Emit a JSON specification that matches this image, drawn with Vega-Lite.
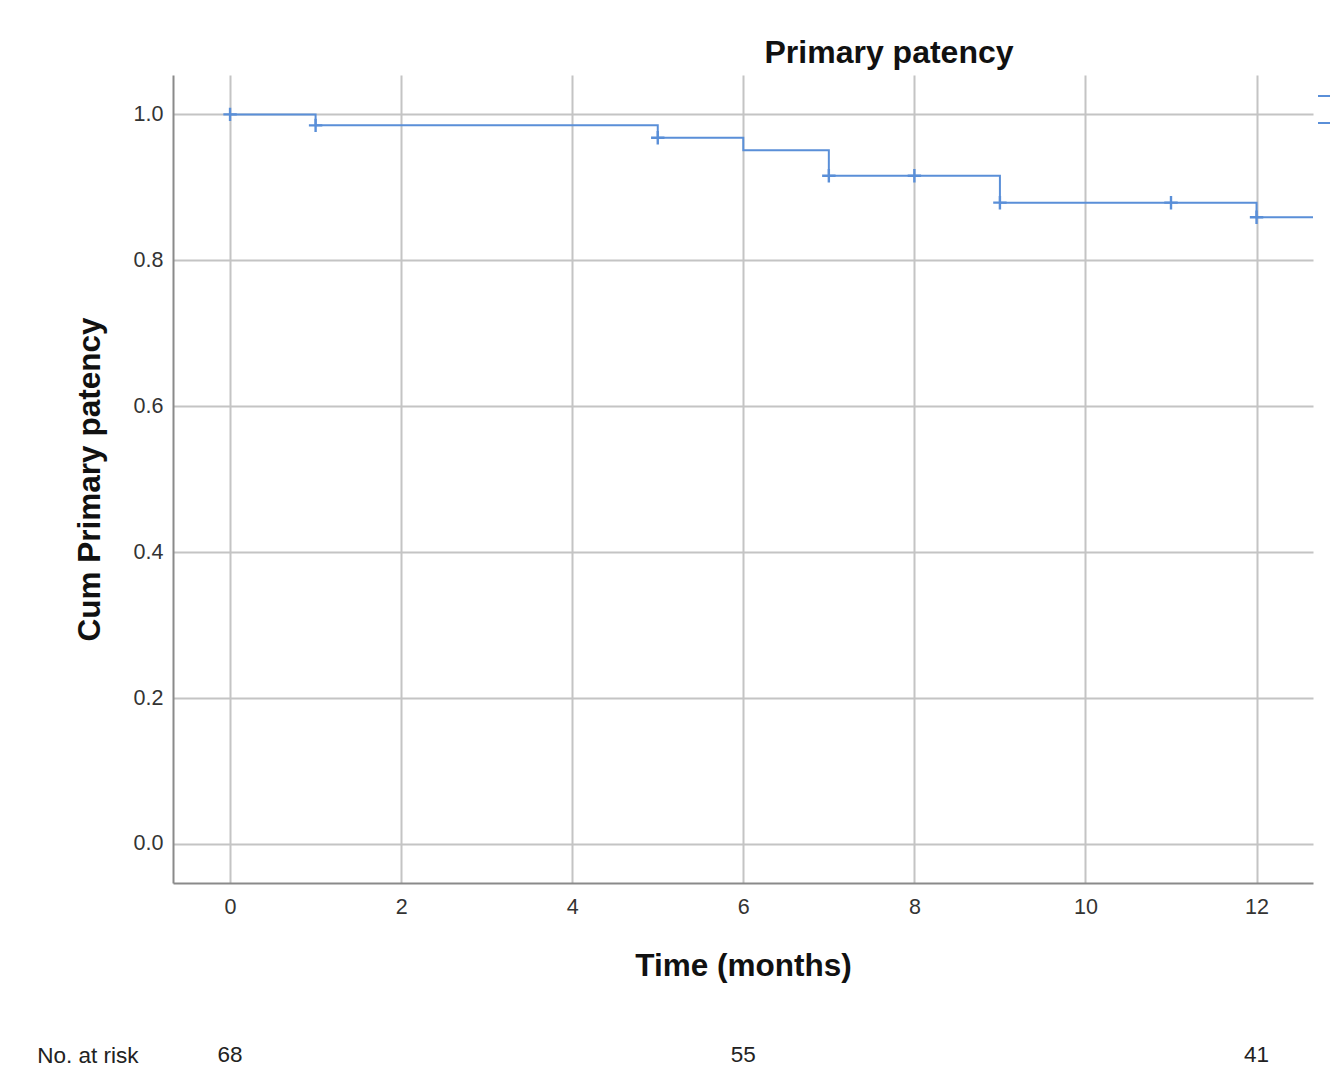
{
  "$schema": "https://vega.github.io/schema/vega-lite/v6.json",
  "autosize": {"type": "none"},
  "padding": {"left": 173, "top": 75, "right": 1157, "bottom": 1016},
  "background": "white",
  "spacing": 58,
  "config": {
    "font": "Liberation Sans",
    "view": {"stroke": null},
    "axis": {"labelFont": "Liberation Sans", "titleFont": "Liberation Sans"}
  },
  "datasets": {
    "curve": [
      {"time": 0, "surv": 1.0, "series": "Survival Function"},
      {"time": 1, "surv": 0.985, "series": "Survival Function"},
      {"time": 5, "surv": 0.968, "series": "Survival Function"},
      {"time": 6, "surv": 0.951, "series": "Survival Function"},
      {"time": 7, "surv": 0.916, "series": "Survival Function"},
      {"time": 9, "surv": 0.879, "series": "Survival Function"},
      {"time": 12, "surv": 0.859, "series": "Survival Function"},
      {"time": 13, "surv": 0.859, "series": "Survival Function"}
    ],
    "censored": [
      {"time": 0, "surv": 1.0, "series": "Censored"},
      {"time": 1, "surv": 0.985, "series": "Censored"},
      {"time": 5, "surv": 0.968, "series": "Censored"},
      {"time": 7, "surv": 0.916, "series": "Censored"},
      {"time": 8, "surv": 0.916, "series": "Censored"},
      {"time": 9, "surv": 0.879, "series": "Censored"},
      {"time": 11, "surv": 0.879, "series": "Censored"},
      {"time": 12, "surv": 0.859, "series": "Censored"}
    ],
    "risk": [
      {"time": 0, "n": 68, "row": "No. at risk"},
      {"time": 6, "n": 55, "row": "No. at risk"},
      {"time": 12, "n": 41, "row": "No. at risk"}
    ]
  },
  "vconcat": [
    {
      "width": 1140,
      "height": 808,
      "title": {
        "text": "Primary patency",
        "frame": "group",
        "anchor": "middle",
        "dx": 146,
        "fontSize": 32,
        "fontWeight": "bold",
        "color": "#111111",
        "offset": 5
      },
      "layer": [
        {
          "data": {"name": "curve"},
          "mark": {"type": "line", "interpolate": "step-after", "strokeWidth": 2, "clip": true},
          "encoding": {
            "x": {
              "field": "time", "type": "quantitative",
              "scale": {"domain": [-0.667, 12.66], "nice": false, "zero": false},
              "axis": {
                "values": [0, 2, 4, 6, 8, 10, 12],
                "format": "d",
                "title": "Time (months)",
                "titleFontSize": 31.5, "titleFontWeight": "bold", "titleColor": "#111111",
                "titlePadding": 33,
                "labelFontSize": 21.5, "labelColor": "#333333", "labelPadding": 13,
                "ticks": false,
                "domainColor": "#8a8a8a", "domainWidth": 2,
                "grid": true, "gridColor": "#c4c4c4", "gridWidth": 2
              }
            },
            "y": {
              "field": "surv", "type": "quantitative",
              "scale": {"domain": [-0.0535, 1.054], "nice": false, "zero": false},
              "axis": {
                "values": [0, 0.2, 0.4, 0.6, 0.8, 1.0],
                "format": ".1f",
                "title": "Cum Primary patency",
                "titleFontSize": 31.5, "titleFontWeight": "bold", "titleColor": "#111111",
                "titlePadding": 27,
                "labelFontSize": 21.5, "labelColor": "#333333", "labelPadding": 10,
                "ticks": false,
                "domainColor": "#8a8a8a", "domainWidth": 2,
                "grid": true, "gridColor": "#c4c4c4", "gridWidth": 2
              }
            },
            "color": {
              "field": "series", "type": "nominal",
              "scale": {"domain": ["Survival Function", "Censored"], "range": ["#5a8fd8", "#5a8fd8"]},
              "legend": {
                "title": null,
                "orient": "none",
                "legendX": 1144,
                "legendY": 10,
                "symbolType": "stroke",
                "symbolSize": 400,
                "symbolStrokeWidth": 2,
                "labelFontSize": 21,
                "rowPadding": 6
              }
            }
          }
        },
        {
          "data": {"name": "censored"},
          "mark": {"type": "point", "shape": "M-1,0H1M0,-1V1", "filled": false, "size": 180, "strokeWidth": 2.4, "opacity": 1},
          "encoding": {
            "x": {"field": "time", "type": "quantitative"},
            "y": {"field": "surv", "type": "quantitative"},
            "color": {"field": "series", "type": "nominal"}
          }
        }
      ]
    },
    {
      "width": 1140,
      "height": 30,
      "data": {"name": "risk"},
      "mark": {"type": "text", "fontSize": 22.5, "color": "#222222"},
      "encoding": {
        "x": {"field": "time", "type": "quantitative", "scale": {"domain": [-0.667, 12.66], "nice": false, "zero": false}, "axis": null},
        "y": {
          "field": "row", "type": "nominal",
          "axis": {"title": null, "domain": false, "ticks": false, "labelFontSize": 22.5, "labelColor": "#222222", "labelPadding": 35}
        },
        "text": {"field": "n", "type": "quantitative"}
      }
    }
  ]
}
